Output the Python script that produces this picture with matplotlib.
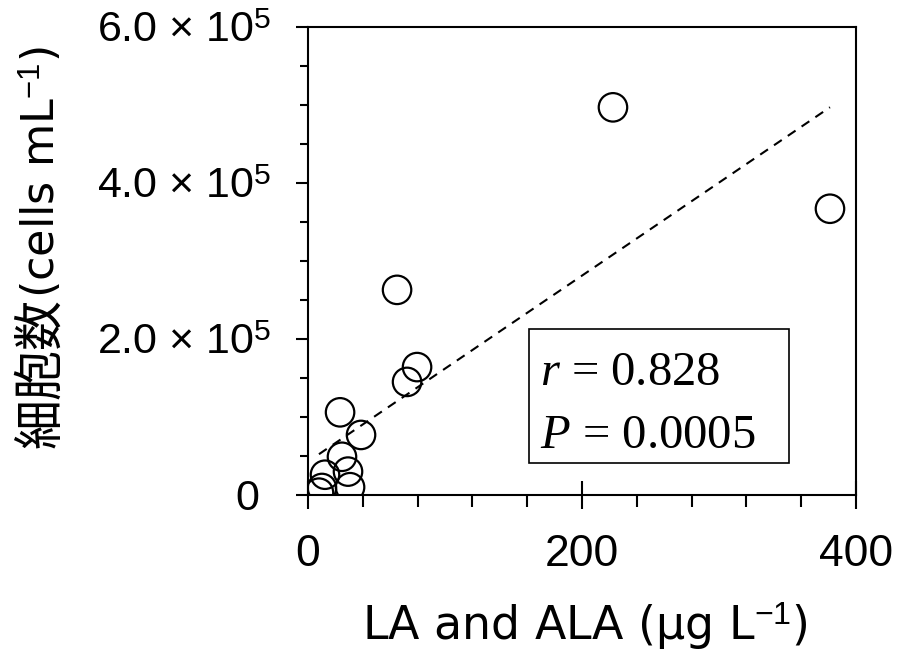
"""Cell density vs LA+ALA concentration, with linear fit."""
import matplotlib
matplotlib.use("Agg")
import matplotlib.pyplot as plt
import numpy as np
from matplotlib.patches import Rectangle
from matplotlib.ticker import FixedLocator, FixedFormatter, MultipleLocator

# LA + ALA (ug/L) and cell density (cells/mL)
la_ala = [222.6, 381.0, 65.0, 79.6, 72.3, 23.4, 38.7, 24.8, 12.4, 29.2, 30.7, 10.2, 8.0]
cells = [4.97e5, 3.67e5, 2.63e5, 1.64e5, 1.45e5, 1.06e5, 0.77e5, 0.49e5,
         0.26e5, 0.30e5, 0.10e5, 0.09e5, 0.03e5]
r_value = "0.828"
p_value = "0.0005"

y_ticks = [0, 2e5, 4e5, 6e5]
y_ticklabels = ["0 ", "2.0 × 10$^{5}$", "4.0 × 10$^{5}$", "6.0 × 10$^{5}$"]

plt.rcParams["mathtext.fontset"] = "custom"
plt.rcParams["mathtext.rm"] = "Liberation Sans"
plt.rcParams["mathtext.it"] = "Liberation Serif:italic"
plt.rcParams["font.family"] = ["Liberation Sans", "DejaVu Sans"]
cjk = ["Noto Sans CJK JP", "DejaVu Sans"]

W, H = 899, 652
fig = plt.figure(figsize=(W / 100, H / 100), dpi=100)
ax = fig.add_axes([308 / W, 1 - 495 / H, 548 / W, 468 / H])

x = np.array(la_ala)
y = np.array(cells)
ax.scatter(x, y, s=420, facecolors="none", edgecolors="black", linewidths=1.6,
           zorder=3)

# least-squares line over the observed range
slope, icpt = np.polyfit(x, y, 1)
xs = np.array([x.min(), x.max()])
ax.plot(xs, slope * xs + icpt, ls=(0, (4.5, 3.5)), c="black", lw=1.5, zorder=2)

ax.set_xlim(0, 400)
ax.set_ylim(0, 6e5)
ax.set_xticks([0, 200, 400])
ax.xaxis.set_minor_locator(MultipleLocator(40))
ax.yaxis.set_major_locator(FixedLocator(y_ticks))
ax.yaxis.set_major_formatter(FixedFormatter(y_ticklabels))
ax.yaxis.set_minor_locator(MultipleLocator(0.5e5))

ax.tick_params(axis="x", which="major", direction="inout", length=20, width=1.5,
               labelsize=32, pad=18)
ax.tick_params(axis="x", which="minor", direction="out", length=8.5, width=1.5)
ax.tick_params(axis="y", which="major", direction="out", length=9, width=1.5,
               labelsize=31, pad=17)
ax.tick_params(axis="y", which="minor", direction="out", length=6, width=1.5)
for sp in ax.spines.values():
    sp.set_linewidth(1.5)

# axis titles
fig.text(585 / W, 1 - 640 / H, r"LA and ALA (μg L$^{-1}$)", family="DejaVu Sans",
         fontsize=33, ha="center", va="baseline")
fig.text(55 / W, 1 - 448 / H, "細胞数", family=cjk, fontsize=36, rotation=90,
         rotation_mode="anchor", ha="left", va="baseline")
fig.text(55 / W, 1 - 298 / H, r"(cells mL$^{-1}$)", family="DejaVu Sans",
         fontsize=32, rotation=90, rotation_mode="anchor", ha="left",
         va="baseline")

# statistics box
ax.add_patch(Rectangle((0.403, 0.068), 0.475, 0.287, transform=ax.transAxes,
                       fc="white", ec="black", lw=1.2, zorder=4))
ax.text(0.423, 0.235, f"$r$ = {r_value}", transform=ax.transAxes,
        family="Liberation Serif", fontsize=35, va="baseline", zorder=5)
ax.text(0.423, 0.100, f"$P$ = {p_value}", transform=ax.transAxes,
        family="Liberation Serif", fontsize=35, va="baseline", zorder=5)

fig.savefig("out.png", dpi=100)
